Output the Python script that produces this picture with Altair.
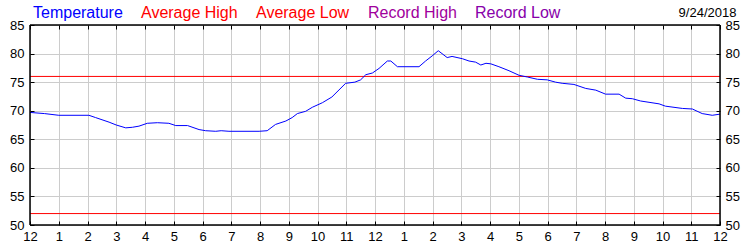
import altair as alt
import pandas as pd

# ---- data ----
hours = [0.00, 0.50, 1.00, 2.05, 2.28, 2.75, 3.00, 3.33, 3.56, 3.79, 4.08, 4.43, 4.83,
         5.07, 5.48, 5.88, 6.11, 6.46, 6.65, 6.92, 7.97, 8.25, 8.54, 8.90, 9.12, 9.30,
         9.59, 9.82, 10.17, 10.50, 10.98, 11.30, 11.50, 11.68, 11.91, 12.14, 12.43,
         12.55, 12.78, 13.53, 13.76, 13.99, 14.20, 14.51, 14.68, 15.04, 15.27, 15.50,
         15.68, 15.86, 16.03, 16.31, 16.66, 17.01, 17.30, 17.65, 17.99, 18.28, 18.51,
         18.92, 19.33, 19.68, 20.02, 20.49, 20.72, 20.95, 21.24, 21.88, 22.10, 22.69,
         23.04, 23.38, 23.73, 24.00]
temps = [69.7, 69.5, 69.2, 69.2, 68.8, 68.0, 67.5, 67.0, 67.1, 67.3, 67.8, 67.9, 67.8,
         67.4, 67.4, 66.7, 66.5, 66.4, 66.5, 66.4, 66.4, 66.5, 67.6, 68.2, 68.8, 69.5,
         69.9, 70.6, 71.4, 72.4, 74.8, 75.0, 75.4, 76.3, 76.6, 77.4, 78.7,
         78.7, 77.7, 77.7, 78.7, 79.6, 80.5, 79.3, 79.5, 79.1, 78.7, 78.5,
         78.0, 78.3, 78.2, 77.7, 77.0, 76.2, 75.9, 75.5, 75.4, 75.0, 74.8,
         74.6, 73.9, 73.6, 72.9, 72.9, 72.2, 72.1, 71.7, 71.2, 70.8, 70.4,
         70.3, 69.5, 69.2, 69.4]

series_names = ["Temperature", "Average High", "Average Low", "Record High", "Record Low"]
series_colors = ["#0000ff", "#ff0000", "#ff0000", "#a0009c", "#8800aa"]
normal_names = ["Average High", "Average Low"]
normal_values = [76, 52]
x_ticks = list(range(0, 25))
y_ticks = [50, 55, 60, 65, 70, 75, 80, 85]
date_label = "9/24/2018"

temp_df = pd.DataFrame({"hour": hours, "temp": temps, "series": "Temperature"})
norm_df = pd.DataFrame({"series": normal_names, "value": normal_values,
                        "start": x_ticks[0], "end": x_ticks[-1]})

FONT = "Liberation Sans"
xscale = alt.Scale(domain=[0, 24], nice=False)
yscale = alt.Scale(domain=[50, 85], nice=False, zero=False)
label_expr = "datum.value % 12 == 0 ? '12' : '' + (datum.value % 12)"

common_axis = dict(offset=-4, tickSize=4, tickColor="black", domain=False,
                   labelFont=FONT, labelFontSize=13, labelColor="black",
                   labelFlush=False, labelOverlap=False, title=None,
                   gridColor="#cccccc", gridWidth=1)

# per-label colour expression built from the series lists
color_expr = "".join(f"datum.value == '{n}' ? '{c}' : " for n, c in zip(series_names, series_colors)) + "'black'"

legend = alt.Legend(
    orient="none", legendX=-13, legendY=-20, direction="horizontal", title=None,
    symbolSize=0, symbolOpacity=0, symbolStrokeWidth=0, labelOffset=0,
    columnPadding=2, padding=0, labelFont=FONT, labelFontSize=16, labelLimit=300,
    labelColor={"expr": color_expr},
)
color = alt.Color("series:N", scale=alt.Scale(domain=series_names, range=series_colors),
                  legend=legend)

rules = alt.Chart(norm_df).mark_rule(strokeWidth=1).encode(
    x=alt.X("start:Q", scale=xscale,
            axis=alt.Axis(orient="top", values=x_ticks, labels=False, grid=True, **common_axis)),
    x2="end:Q",
    y=alt.Y("value:Q", scale=yscale,
            axis=alt.Axis(orient="right", values=y_ticks, grid=True, labelPadding=5, **common_axis)),
    color=color,
)

line = alt.Chart(temp_df).mark_line(strokeWidth=1).encode(
    x=alt.X("hour:Q", scale=xscale,
            axis=alt.Axis(orient="bottom", values=x_ticks, labelExpr=label_expr, grid=False,
                          labelPadding=5, **common_axis)),
    y=alt.Y("temp:Q", scale=yscale,
            axis=alt.Axis(orient="left", values=y_ticks, grid=False, labelPadding=6, **common_axis)),
    color=color,
)

frame = alt.Chart(norm_df).mark_rect(filled=False, stroke="black", strokeWidth=1).encode(
    x=alt.value(0), x2=alt.value(690), y=alt.value(0), y2=alt.value(200)
)

chart = alt.layer(rules, line, frame).resolve_axis(
    x="independent", y="independent"
).properties(
    width=690, height=200,
    padding={"left": 30, "top": 25, "right": 30, "bottom": 25},
    autosize=alt.AutoSizeParams(type="none"),
    title=alt.TitleParams(date_label, anchor="end", orient="top", font=FONT, fontSize=13,
                          fontWeight="normal", color="black", baseline="alphabetic",
                          offset=-25, dx=-3),
).configure_view(stroke=None)

chart.save("out.html", embed_options={"renderer": "svg", "actions": False})
